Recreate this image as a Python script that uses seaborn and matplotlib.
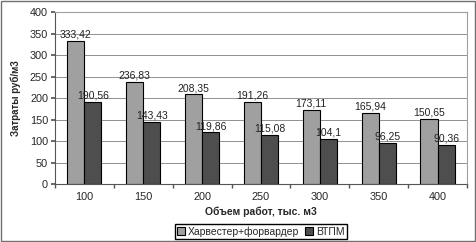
import numpy as np
import pandas as pd
import seaborn as sns
import matplotlib.pyplot as plt
from matplotlib.patches import Rectangle

volumes = ["100", "150", "200", "250", "300", "350", "400"]
harvester = [333.42, 236.83, 208.35, 191.26, 173.11, 165.94, 150.65]
vtpm = [190.56, 143.43, 119.86, 115.08, 104.1, 96.25, 90.36]
series_names = ["Харвестер+форвардер", "ВТПМ"]

df = pd.DataFrame({
    "volume": volumes * 2,
    "cost": harvester + vtpm,
    "series": [series_names[0]] * len(volumes) + [series_names[1]] * len(volumes),
})

sns.set_theme(style="white")
plt.rcParams["font.family"] = ["Liberation Sans", "DejaVu Sans"]

fig = plt.figure(figsize=(4.76, 2.42), dpi=100)
ax = fig.add_axes([0.1155, 0.2397, 0.8655, 0.7103])

sns.barplot(data=df, x="volume", y="cost", hue="series", order=volumes,
            hue_order=series_names, palette=["#a0a0a0", "#4e4e4e"],
            width=0.58, gap=0, edgecolor="black", linewidth=0.8,
            saturation=1, ax=ax)

for cont in ax.containers:
    labels = [f"{v:g}".replace(".", ",") for v in cont.datavalues]
    ax.bar_label(cont, labels=labels, fontsize=7.5, padding=1, color="#222222")

ax.set_ylim(0, 400)
ax.set_yticks(range(0, 401, 50))
ax.set_xlim(-0.5, len(volumes) - 0.5)
ax.yaxis.grid(True, color="#909090", linewidth=0.7)
ax.set_axisbelow(True)

for side in ["top", "right"]:
    ax.spines[side].set_color("#a0a0a0")
    ax.spines[side].set_linewidth(0.8)
for side in ["left", "bottom"]:
    ax.spines[side].set_color("#555555")
    ax.spines[side].set_linewidth(0.8)

ax.tick_params(axis="y", labelsize=7.8, length=3, direction="out", left=True,
               color="#555555", pad=2)
ax.tick_params(axis="x", which="major", labelsize=7.8, length=0, pad=6)
ax.set_xticks(np.arange(-0.5, len(volumes), 1), minor=True)
ax.tick_params(axis="x", which="minor", length=3, direction="out", bottom=True,
               color="#555555")

ax.set_xlabel("Объем работ, тыс. м3", fontsize=7.5, fontweight="bold", labelpad=3)
ax.set_ylabel("Затраты руб/м3", fontsize=7, fontweight="bold", labelpad=6)

ax.legend(loc="upper center", bbox_to_anchor=(0.5, -0.23), ncol=2, fontsize=7.5,
          frameon=True, fancybox=False, edgecolor="black", framealpha=1,
          borderpad=0.25, handlelength=0.7, handleheight=0.7, handletextpad=0.3,
          columnspacing=0.6, borderaxespad=0)

fig.patches.append(Rectangle((0.002, 0.004), 0.995, 0.992, transform=fig.transFigure,
                             fill=False, edgecolor="#707070", linewidth=1.0))

fig.savefig("out.png", dpi=100)
